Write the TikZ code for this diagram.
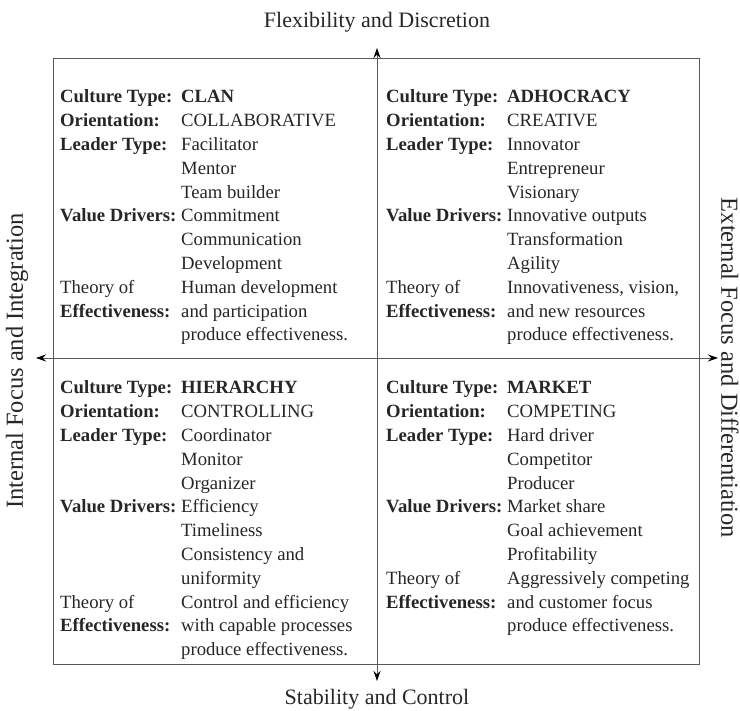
\documentclass[tikz,border=0pt]{standalone}
\usepackage{fontspec}
\setmainfont{Liberation Serif}
\usepackage{array}
\usetikzlibrary{arrows.meta}

\newcommand{\quadtext}[1]{\fontsize{18.7}{23.8}\selectfont
  \begin{tabular}{@{}p{121pt}@{}l@{}}#1\end{tabular}}

\begin{document}
\begin{tikzpicture}[x=1pt, y=-1pt,
  quad/.style = {anchor=north west, inner sep=0pt, text=black!85},
  axislabel/.style = {font=\fontsize{22}{24}\selectfont, text=black!85, inner sep=0pt},
  sidelabel/.style = {font=\fontsize{24.5}{26}\selectfont, text=black!85, inner sep=0pt},
  axis/.style = {draw=black!65, line width=0.9pt, -{Stealth[length=10pt,width=7pt,black]}}]
\useasboundingbox (0,0) rectangle (740,711);
% frame
\draw[black!65, line width=0.9pt] (53,58) rectangle (699,664);
\coordinate (c) at (377,358);
\coordinate (top) at (377,48);
\coordinate (bot) at (377,681);
\coordinate (lft) at (36,358);
\coordinate (rgt) at (718,358);
\draw[axis] (c) -- (top);
\draw[axis] (c) -- (bot);
\draw[axis] (c) -- (lft);
\draw[axis] (c) -- (rgt);
% axis labels
\node[axislabel] (flex) at (377,22) {Flexibility and Discretion};
\node[axislabel] (stab) at (377,699) {Stability and Control};
\node[sidelabel, rotate=90] (intl) at (17,361) {Internal Focus and Integration};
\node[sidelabel, rotate=-90] (extl) at (730,368) {External Focus and Differentiation};
% quadrants
\node[quad] (clan) at (60,86) {\quadtext{
  \textbf{Culture Type:} & \textbf{CLAN}\\
  \textbf{Orientation:} & COLLABORATIVE\\
  \textbf{Leader Type:} & Facilitator\\
  & Mentor\\
  & Team builder\\
  \textbf{Value Drivers:} & Commitment\\
  & Communication\\
  & Development\\
  Theory of & Human development\\
  \textbf{Effectiveness:} & and participation\\
  & produce effectiveness.}};
\node[quad] (adhocracy) at (386,86) {\quadtext{
  \textbf{Culture Type:} & \textbf{ADHOCRACY}\\
  \textbf{Orientation:} & CREATIVE\\
  \textbf{Leader Type:} & Innovator\\
  & Entrepreneur\\
  & Visionary\\
  \textbf{Value Drivers:} & Innovative outputs\\
  & Transformation\\
  & Agility\\
  Theory of & Innovativeness, vision,\\
  \textbf{Effectiveness:} & and new resources\\
  & produce effectiveness.}};
\node[quad] (hierarchy) at (60,377) {\quadtext{
  \textbf{Culture Type:} & \textbf{HIERARCHY}\\
  \textbf{Orientation:} & CONTROLLING\\
  \textbf{Leader Type:} & Coordinator\\
  & Monitor\\
  & Organizer\\
  \textbf{Value Drivers:} & Efficiency\\
  & Timeliness\\
  & Consistency and\\
  & uniformity\\
  Theory of & Control and efficiency\\
  \textbf{Effectiveness:} & with capable processes\\
  & produce effectiveness.}};
\node[quad] (market) at (386,377) {\quadtext{
  \textbf{Culture Type:} & \textbf{MARKET}\\
  \textbf{Orientation:} & COMPETING\\
  \textbf{Leader Type:} & Hard driver\\
  & Competitor\\
  & Producer\\
  \textbf{Value Drivers:} & Market share\\
  & Goal achievement\\
  & Profitability\\
  Theory of & Aggressively competing\\
  \textbf{Effectiveness:} & and customer focus\\
  & produce effectiveness.}};
\end{tikzpicture}
\end{document}
